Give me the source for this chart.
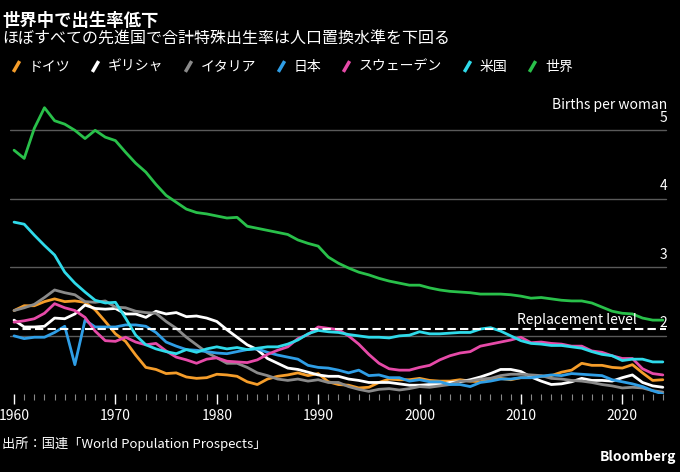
import numpy as np, pandas as pd, seaborn as sns, matplotlib
matplotlib.use("Agg")
import matplotlib.pyplot as plt
from matplotlib.lines import Line2D

years = list(range(1960, 2025))
germany = [2.37,2.44,2.44,2.50,2.54,2.50,2.51,2.49,2.38,2.21,2.03,1.92,1.72,1.54,1.51,1.45,1.46,1.40,1.38,1.39,1.44,1.43,1.41,1.33,1.29,1.37,1.41,1.43,1.46,1.42,1.45,1.33,1.29,1.28,1.24,1.25,1.32,1.37,1.36,1.36,1.38,1.35,1.34,1.34,1.36,1.34,1.33,1.37,1.38,1.36,1.39,1.39,1.41,1.42,1.47,1.50,1.60,1.57,1.57,1.54,1.53,1.58,1.46,1.35,1.36]
greece = [2.23,2.13,2.13,2.14,2.26,2.25,2.32,2.45,2.40,2.39,2.40,2.32,2.32,2.27,2.36,2.32,2.34,2.28,2.29,2.26,2.21,2.09,1.98,1.87,1.80,1.67,1.60,1.53,1.51,1.47,1.43,1.41,1.41,1.37,1.35,1.32,1.32,1.32,1.30,1.28,1.28,1.29,1.29,1.32,1.33,1.36,1.40,1.45,1.51,1.51,1.48,1.40,1.34,1.29,1.30,1.33,1.38,1.35,1.35,1.34,1.39,1.43,1.32,1.27,1.25]
italy = [2.37,2.41,2.46,2.56,2.67,2.63,2.60,2.50,2.49,2.51,2.42,2.41,2.36,2.34,2.33,2.21,2.11,1.98,1.87,1.76,1.68,1.60,1.60,1.54,1.46,1.42,1.37,1.35,1.37,1.34,1.36,1.32,1.32,1.26,1.22,1.19,1.22,1.23,1.21,1.23,1.26,1.25,1.27,1.29,1.34,1.34,1.37,1.38,1.42,1.44,1.44,1.43,1.42,1.38,1.37,1.35,1.34,1.32,1.29,1.27,1.24,1.25,1.24,1.20,1.18]
japan = [2.00,1.96,1.98,1.98,2.05,2.14,1.58,2.23,2.13,2.13,2.13,2.16,2.16,2.14,2.05,1.91,1.85,1.80,1.79,1.77,1.75,1.74,1.77,1.80,1.81,1.76,1.72,1.69,1.66,1.57,1.54,1.53,1.50,1.46,1.50,1.42,1.43,1.39,1.39,1.34,1.36,1.33,1.33,1.29,1.29,1.26,1.32,1.34,1.37,1.37,1.39,1.39,1.41,1.43,1.42,1.45,1.44,1.43,1.42,1.36,1.33,1.30,1.26,1.20,1.15]
sweden = [2.20,2.22,2.25,2.33,2.47,2.41,2.37,2.27,2.07,1.93,1.92,1.98,1.91,1.87,1.89,1.78,1.69,1.65,1.60,1.66,1.68,1.63,1.62,1.61,1.65,1.73,1.79,1.84,1.96,2.02,2.13,2.11,2.09,2.00,1.88,1.73,1.60,1.52,1.50,1.50,1.54,1.57,1.65,1.71,1.75,1.77,1.85,1.88,1.91,1.94,1.98,1.90,1.91,1.89,1.88,1.85,1.85,1.78,1.76,1.71,1.67,1.67,1.52,1.45,1.43]
usa = [3.66,3.63,3.47,3.32,3.18,2.93,2.77,2.64,2.52,2.48,2.49,2.26,2.01,1.87,1.81,1.77,1.74,1.80,1.76,1.81,1.84,1.81,1.83,1.80,1.82,1.84,1.84,1.88,1.94,2.03,2.08,2.06,2.05,2.02,2.00,1.98,1.98,1.97,2.00,2.01,2.06,2.03,2.03,2.04,2.05,2.05,2.10,2.12,2.07,2.00,1.93,1.89,1.88,1.86,1.86,1.84,1.82,1.77,1.73,1.71,1.64,1.66,1.66,1.62,1.62]
world = [4.71,4.59,5.03,5.33,5.14,5.09,5.00,4.88,5.00,4.90,4.85,4.68,4.52,4.39,4.21,4.05,3.95,3.85,3.80,3.78,3.75,3.72,3.73,3.60,3.57,3.54,3.51,3.48,3.40,3.35,3.31,3.15,3.06,2.99,2.93,2.89,2.84,2.80,2.77,2.74,2.74,2.70,2.67,2.65,2.64,2.63,2.61,2.61,2.61,2.60,2.58,2.55,2.56,2.54,2.52,2.51,2.51,2.48,2.42,2.36,2.33,2.32,2.26,2.23,2.23]

names = ["ドイツ","ギリシャ","イタリア","日本","スウェーデン","米国","世界"]
series = [germany, greece, italy, japan, sweden, usa, world]
colors = ["#f59d2a","#ffffff","#8a8a8a","#2f9ee6","#e64aa8","#2fdaea","#29c04a"]

df = pd.concat([pd.DataFrame({"year": years, "tfr": s, "name": n}) for n, s in zip(names, series)])

sns.set_style("dark")
plt.rcParams['font.family'] = ['Noto Sans CJK JP', 'DejaVu Sans']
fig = plt.figure(figsize=(6.8, 4.72), dpi=100, facecolor="black")
ax = fig.add_axes([10/680, 0.165, 666/680, 0.646])
ax.set_facecolor("black")
for y in [2, 3, 4, 5]:
    ax.axhline(y, xmax=0.985, color="#5a5a5a", lw=1, zorder=0)
sns.lineplot(data=df, x="year", y="tfr", hue="name", palette=dict(zip(names, colors)),
             linewidth=2, ax=ax, legend=False)
ax.axhline(2.1, xmax=0.985, color="white", lw=1.5, ls=(0, (4, 2)), zorder=5)
ax.text(2021.4, 2.13, "Replacement level", color="white", fontsize=10, ha="right", va="bottom")
ax.set_xlim(1959.6, 2025.3)
ax.set_ylim(1.15, 5.6)
for y in [2, 3, 4, 5]:
    ax.text(2024.4, y + 0.08, str(y), color="white", fontsize=10, ha="right", va="bottom")
ax.text(2024.4, 5.27, "Births per woman", color="white", fontsize=10, ha="right", va="bottom")
for s in ax.spines.values():
    s.set_visible(False)
ax.set_yticks([])
ax.set_xticks(range(1960, 2021, 10))
ax.set_xticks(range(1960, 2025), minor=True)
ax.tick_params(axis="x", which="both", colors="white", labelsize=10, direction="out", bottom=True)
ax.tick_params(axis="x", which="major", length=7, width=1)
ax.tick_params(axis="x", which="minor", length=4, width=0.8, color="#888888")
ax.set_xlabel(""); ax.set_ylabel("")
ax.grid(False)

fig.text(0.003, 0.975, "世界中で出生率低下", color="white", fontsize=12.5, fontweight="bold", va="top")
fig.text(0.003, 0.935, "ほぼすべての先進国で合計特殊出生率は人口置換水準を下回る", color="white", fontsize=11.5, va="top")
handles = [Line2D([], [], ls="none", marker=(2, 0, -30), markersize=9, markeredgewidth=2.5, color=c) for c in colors]
fig.legend(handles, names, loc="upper left", bbox_to_anchor=(-0.005, 0.9), ncol=7, frameon=False,
           labelcolor="white", fontsize=10, handlelength=1.0, handletextpad=0.4, columnspacing=1.3)
fig.text(0.003, 0.06, "出所：国連「World Population Prospects」", color="white", fontsize=9.5, va="center")
fig.text(0.995, 0.018, "Bloomberg", color="white", fontsize=10, fontweight="bold", ha="right", va="bottom")
fig.savefig("out.png", dpi=100, facecolor="black")
